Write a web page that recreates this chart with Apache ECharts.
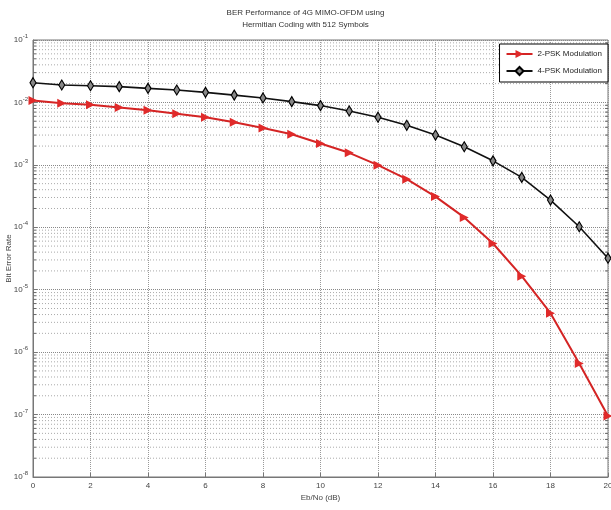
<!DOCTYPE html>
<html>
<head>
<meta charset="utf-8">
<script src="https://cdn.jsdelivr.net/npm/echarts@6/dist/echarts.min.js"></script>
<style>
html,body{margin:0;padding:0;background:#fff;}
#chart{width:611px;height:510px;}
</style>
</head>
<body>
<div id="chart"></div>
<script>
const ebno = [0,1,2,3,4,5,6,7,8,9,10,11,12,13,14,15,16,17,18,19,20];
const bpsk = [0.0107,0.0097,0.0092,0.0083,0.0075,0.0066,0.0058,0.0048,0.0039,0.0031,0.0022,0.00156,0.00099,0.00059,0.00031,0.000144,0.000055,0.0000165,0.0000042,0.00000066,0.000000095];
const qpsk = [0.0207,0.0190,0.0185,0.0179,0.0168,0.0158,0.0145,0.0131,0.0118,0.0103,0.0089,0.0073,0.0058,0.0043,0.0030,0.00195,0.00116,0.00063,0.000273,0.000102,0.000032];
const xTicks = [0,2,4,6,8,10,12,14,16,18,20];
const yExponents = [-8,-7,-6,-5,-4,-3,-2,-1];
const seriesNames = ['2-PSK Modulation','4-PSK Modulation'];
const titleLines = ['BER Performance of 4G MIMO-OFDM using','Hermitian Coding with 512 Symbols'];

const minorValues = [];
for (let e = yExponents[0]; e < yExponents[yExponents.length-1]; e++) {
  for (let k = 2; k <= 9; k++) minorValues.push(k * Math.pow(10, e));
}
const FONT = '"Liberation Sans Narrow", "Liberation Sans", Arial, sans-serif';

const chart = echarts.init(document.getElementById('chart'));
chart.setOption({
  animation: false,
  backgroundColor: '#fff',
  textStyle: {fontFamily: FONT},
  title: {
    text: titleLines.join('\n'),
    left: 'center', top: 2,
    textStyle: {fontSize: 8, fontWeight: 'normal', color: '#333', lineHeight: 12, fontFamily: FONT}
  },
  legend: {
    data: seriesNames,
    orient: 'vertical',
    right: 3, top: 44,
    backgroundColor: '#fff',
    borderColor: '#000', borderWidth: 1,
    padding: [6, 6, 6, 6],
    itemGap: 8,
    itemWidth: 26, itemHeight: 10,
    textStyle: {fontSize: 8, color: '#222', fontFamily: FONT}
  },
  grid: {left: 33, right: 3, top: 40, bottom: 33, show: true, borderColor: '#777', borderWidth: 1,
    containLabel: false, outerBoundsMode: 'none'},
  xAxis: {
    type: 'value', min: 0, max: 20, interval: 2,
    name: 'Eb/No (dB)', nameLocation: 'middle', nameGap: 17, nameMoveOverlap: false,
    nameTextStyle: {fontSize: 8, color: '#444', fontFamily: FONT},
    axisLine: {lineStyle: {color: '#777'}},
    axisTick: {inside: true, length: 4, lineStyle: {color: '#777'}},
    axisLabel: {fontSize: 8, color: '#444', margin: 5, fontFamily: FONT},
    splitLine: {show: true, lineStyle: {type: 'dotted', color: '#999'}}
  },
  yAxis: {
    type: 'log', logBase: 10, min: 1e-8, max: 1e-1,
    name: 'Bit Error Rate', nameLocation: 'middle', nameGap: 20, nameMoveOverlap: false,
    nameTextStyle: {fontSize: 8, color: '#444', fontFamily: FONT},
    axisLine: {lineStyle: {color: '#777'}},
    axisTick: {inside: true, length: 4, lineStyle: {color: '#777'}},
    axisLabel: {
      color: '#444', margin: 5,
      formatter: function (v) {
        const e = Math.round(Math.log10(v));
        return '{b|10}{s|' + e + '}';
      },
      rich: {
        b: {fontSize: 8, color: '#444', fontFamily: FONT},
        s: {fontSize: 6, color: '#444', padding: [0, 0, 7, 0], fontFamily: FONT}
      }
    },
    splitLine: {show: true, lineStyle: {type: 'dotted', color: '#888'}}
  },
  series: [
    {
      name: 'minor', type: 'custom', silent: true, z: 1,
      data: minorValues,
      encode: {y: 0},
      renderItem: function (params, api) {
        const v = api.value(0);
        const a = api.coord([0, v]);
        const b = api.coord([20, v]);
        return {
          type: 'group',
          children: [
            {type: 'line', shape: {x1: a[0], y1: a[1], x2: b[0], y2: b[1]},
              style: {stroke: '#aaa', lineWidth: 1, lineDash: [1, 2]}},
            {type: 'line', shape: {x1: a[0], y1: a[1], x2: a[0] + 3, y2: a[1]},
              style: {stroke: '#666', lineWidth: 1}},
            {type: 'line', shape: {x1: b[0] - 3, y1: b[1], x2: b[0], y2: b[1]},
              style: {stroke: '#666', lineWidth: 1}}
          ]
        };
      }
    },
    {
      name: seriesNames[0], type: 'line', z: 3,
      data: ebno.map((x, i) => [x, bpsk[i]]),
      symbol: 'triangle', symbolRotate: -90, symbolSize: 9,
      lineStyle: {color: '#d42424', width: 2},
      itemStyle: {color: '#e02a2a'}
    },
    {
      name: seriesNames[1], type: 'line', z: 3,
      data: ebno.map((x, i) => [x, qpsk[i]]),
      symbol: 'diamond', symbolSize: [6, 10],
      lineStyle: {color: '#111', width: 1.6},
      itemStyle: {color: '#888', borderColor: '#000', borderWidth: 1.2}
    }
  ]
});
</script>
</body>
</html>
